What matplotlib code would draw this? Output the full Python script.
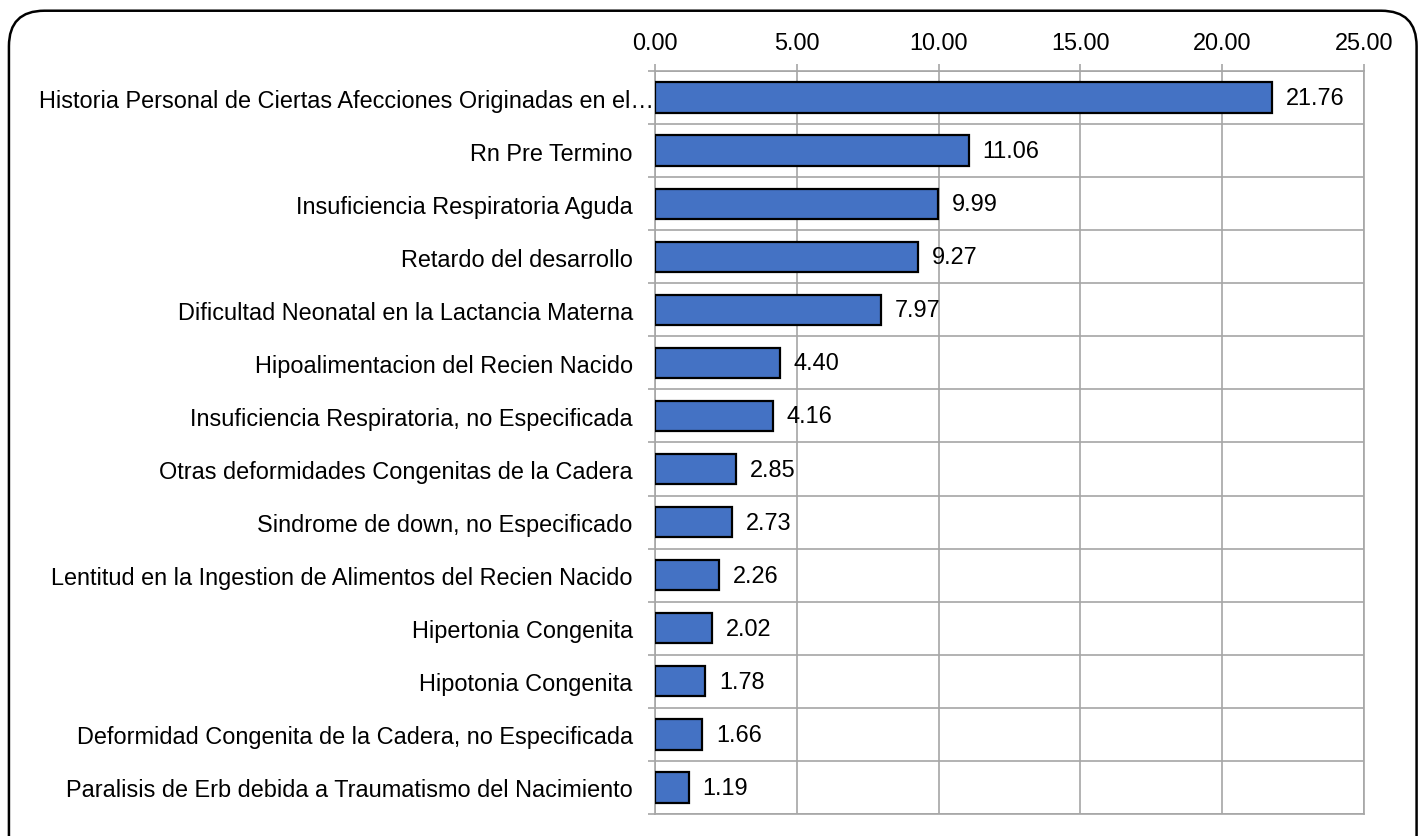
import matplotlib
matplotlib.use('Agg')
import matplotlib.pyplot as plt
from matplotlib.patches import FancyBboxPatch
from matplotlib.transforms import ScaledTranslation
import numpy as np

categories = [
    "Historia Personal de Ciertas Afecciones Originadas en el…",
    "Rn Pre Termino",
    "Insuficiencia Respiratoria Aguda",
    "Retardo del desarrollo",
    "Dificultad Neonatal en la Lactancia Materna",
    "Hipoalimentacion del Recien Nacido",
    "Insuficiencia Respiratoria, no Especificada",
    "Otras deformidades Congenitas de la Cadera",
    "Sindrome de down, no Especificado",
    "Lentitud en la Ingestion de Alimentos del Recien Nacido",
    "Hipertonia Congenita",
    "Hipotonia Congenita",
    "Deformidad Congenita de la Cadera, no Especificada",
    "Paralisis de Erb debida a Traumatismo del Nacimiento",
]
values = [21.76, 11.06, 9.99, 9.27, 7.97, 4.40, 4.16, 2.85, 2.73, 2.26, 2.02, 1.78, 1.66, 1.19]
xticks = [0, 5, 10, 15, 20, 25]

plt.rcParams['font.family'] = ['Liberation Sans', 'DejaVu Sans']

grid_color = '#a6a6a6'
bar_color = '#4472c4'
fs = 16.9

fig = plt.figure(figsize=(14.18, 8.37), dpi=100, facecolor='white')
ax = fig.add_axes([0.4619, 0.0263, 0.5, 0.8877])

y = np.arange(len(categories))
ax.barh(y, values, height=0.57, color=bar_color, edgecolor='black', linewidth=1.6, zorder=3)

for yi, v in zip(y, values):
    ax.annotate(f"{v:.2f}", (v, yi), xytext=(10, 0), textcoords='offset points',
                va='center', ha='left', fontsize=fs, color='#000000', zorder=4)

ax.set_xlim(0, 25)
ax.set_ylim(len(categories) - 0.5, -0.5)
ax.set_xticks(xticks)
ax.set_xticklabels([f"{t:.2f}" for t in xticks])
ax.xaxis.tick_top()
ax.set_yticks(y)
ax.set_yticklabels(categories)
ax.set_yticks(np.arange(len(categories) + 1) - 0.5, minor=True)

ax.tick_params(axis='x', which='major', length=5, width=1.2, color=grid_color,
               labelsize=fs, pad=7)
ax.tick_params(axis='y', which='major', length=0, labelsize=fs, pad=16)
ax.tick_params(axis='y', which='minor', length=5, width=1.2, color=grid_color)

# the truncated first label runs closer to the bar
first = ax.get_yticklabels()[0]
first.set_transform(first.get_transform() + ScaledTranslation(15 / 72, 0, fig.dpi_scale_trans))

ax.grid(axis='x', which='major', color=grid_color, linewidth=1.2, zorder=0)
ax.grid(axis='y', which='minor', color=grid_color, linewidth=1.2, zorder=0)
ax.set_axisbelow(True)

for s in ax.spines.values():
    s.set_color(grid_color)
    s.set_linewidth(1.2)

# rounded outer frame
frame = FancyBboxPatch((0.0063, -0.05), 0.9927, 1.036,
                       boxstyle="round,pad=0,rounding_size=0.025",
                       transform=fig.transFigure, facecolor='none',
                       edgecolor='black', linewidth=1.8, zorder=10,
                       mutation_aspect=1418 / 837)
fig.patches.append(frame)

fig.savefig('out.png', dpi=100)
